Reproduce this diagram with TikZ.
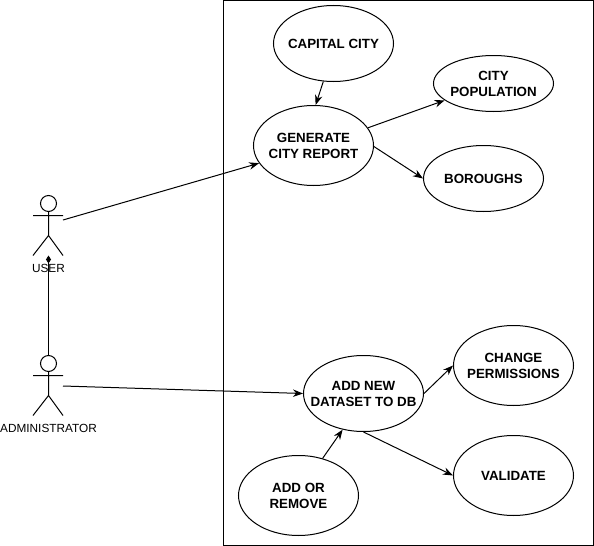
\documentclass[tikz,border=0pt]{standalone}
\usepackage{fontspec}
\setmainfont{Liberation Sans}
\usetikzlibrary{shapes.geometric,arrows.meta}
\tikzset{
  uc/.style={draw=black,shape=ellipse,inner sep=-15pt,minimum width=120*0.75pt,align=center,font=\fontsize{10pt}{12pt}\selectfont\bfseries},
  conn/.style={-{Stealth[length=7.5pt,width=5.6pt]},black},
  stick/.style={black},
  lbl/.style={inner sep=0pt,font=\fontsize{8.85pt}{11pt}\selectfont}
}
\begin{document}
\begin{tikzpicture}[x=0.75pt,y=-0.75pt,line width=0.75pt]
\path[use as bounding box,fill=white] (0,0) rectangle (594,546);
\node[draw=black,shape=rectangle,inner sep=0pt,minimum width=370*0.75pt,minimum height=545*0.75pt] (frame) at (408.5,272.5) {};
\node[uc,minimum height=76*0.75pt] (capital) at (333.5,43.5) {CAPITAL CITY};
\node[uc,minimum height=56*0.75pt] (pop) at (493.5,83.5) {CITY\\POPULATION};
\node[uc,minimum height=80*0.75pt] (gen) at (313.5,145.5) {GENERATE\\CITY REPORT};
\node[uc,minimum height=66*0.75pt] (bor) at (483.5,178.5) {BOROUGHS};
\node[uc,minimum height=76*0.75pt] (add) at (363.5,393.5) {ADD NEW\\DATASET TO DB};
\node[uc,minimum height=80*0.75pt] (perm) at (513.5,365.5) {CHANGE\\PERMISSIONS};
\node[uc,minimum height=80*0.75pt] (val) at (513.5,475.5) {VALIDATE};
\node[uc,minimum height=80*0.75pt] (rem) at (298.5,495.5) {ADD OR\\REMOVE};
% actors
\node[draw=black,circle,inner sep=0pt,minimum size=16*0.75pt] (uhead) at (48.5,203.5) {};
\coordinate (ufoot) at (48.5,255.5);
\coordinate (uout) at (63,220);
\draw[stick] (uhead.south) -- (48.5,235.5) (33,215.5) -- (63,215.5) (33,255.5) -- (48.5,235.5) -- (63,255.5);
\node[lbl] (ulabel) at (48.5,268) {USER};
\node[draw=black,circle,inner sep=0pt,minimum size=16*0.75pt] (ahead) at (48.5,363.5) {};
\coordinate (aout) at (63,386);
\draw[stick] (ahead.south) -- (48.5,395.5) (33,375.5) -- (63,375.5) (33,415.5) -- (48.5,395.5) -- (63,415.5);
\node[lbl] (alabel) at (48.5,428) {ADMINISTRATOR};
% connectors
\draw[-{Diamond[length=6pt,width=3.8pt]},black] (ahead.north) -- (ufoot);
\draw[conn] (uout) -- (gen.198);
\draw[conn] (aout) -- (add.west);
\draw[conn] (capital.255) -- (gen.87);
\draw[conn] (gen.18) -- (pop.199);
\draw[conn] (gen.-1) -- (bor.west);
\draw[conn] (add.east) -- (perm.west);
\draw[conn] (add.south) -- (val.west);
\draw[conn] (rem.57) -- (add.240);
\end{tikzpicture}
\end{document}
